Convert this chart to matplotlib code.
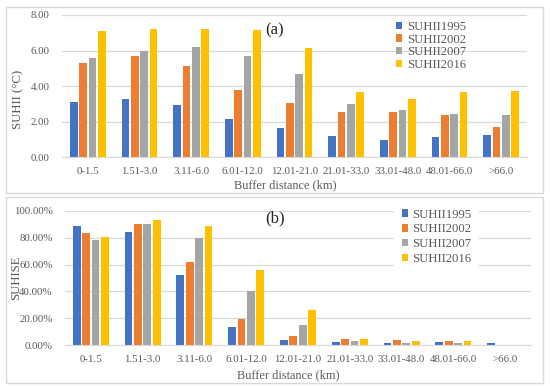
import matplotlib
matplotlib.use("Agg")
import matplotlib.pyplot as plt
import numpy as np
from matplotlib.patches import Rectangle

plt.rcParams['font.family'] = ['Liberation Serif', 'DejaVu Serif']

categories = ["0-1.5", "1.51-3.0", "3.11-6.0", "6.01-12.0", "12.01-21.0",
              "21.01-33.0", "33.01-48.0", "48.01-66.0", ">66.0"]
series_names = ["SUHII1995", "SUHII2002", "SUHII2007", "SUHII2016"]

suhii_1995 = [3.12, 3.25, 2.92, 2.13, 1.63, 1.18, 0.99, 1.12, 1.23]
suhii_2002 = [5.31, 5.68, 5.16, 3.81, 3.05, 2.54, 2.54, 2.36, 1.70]
suhii_2007 = [5.57, 5.98, 6.19, 5.72, 4.67, 3.01, 2.64, 2.45, 2.37]
suhii_2016 = [7.10, 7.20, 7.23, 7.18, 6.13, 3.66, 3.27, 3.66, 3.72]

suhise_1995 = [88.3, 84.3, 52.2, 13.6, 4.2, 2.2, 1.8, 2.1, 1.6]
suhise_2002 = [83.8, 90.3, 62.2, 19.2, 6.8, 4.4, 3.6, 3.4, 0.0]
suhise_2007 = [78.6, 90.3, 79.4, 40.6, 15.2, 3.1, 1.5, 2.0, 0.0]
suhise_2016 = [80.6, 92.8, 88.8, 55.6, 26.0, 4.6, 2.9, 3.4, 0.0]

colors = ["#4472C4", "#ED7D31", "#A5A5A5", "#FFC000"]
grid_c = "#D9D9D9"
txt_c = "#595959"

W, H = 550, 388
fig = plt.figure(figsize=(5.5, 3.88), dpi=100)

def px_axes(l, r, t, b):
    return fig.add_axes([l / W, 1 - b / H, (r - l) / W, (b - t) / H])

# panel borders
for (t, b) in [(7, 193), (197, 383)]:
    fig.patches.append(Rectangle((6 / W, 1 - b / H), (543 - 6) / W, (b - t) / H,
                                 transform=fig.transFigure, fill=False,
                                 edgecolor=grid_c, linewidth=1.0))

ax1 = px_axes(62, 527, 15, 157.3)
ax2 = px_axes(65, 531, 210.7, 345.3)

x = np.arange(len(categories))
pitch = 0.182
bw = 0.150

def draw(ax, data, ylim, yticks, fmt, ylabel, tag, tag_y, leg_anchor, leg_frame, lspacing):
    bars = []
    for i, (vals, c, name) in enumerate(zip(data, colors, series_names)):
        b = ax.bar(x + (i - 1.5) * pitch, vals, width=bw, color=c, label=name, zorder=3)
        bars.append(b)
    ax.set_xlim(-0.5, len(categories) - 0.5)
    ax.set_ylim(*ylim)
    ax.set_yticks(yticks)
    ax.set_yticklabels([fmt(v) for v in yticks])
    ax.set_xticks(x)
    ax.set_xticklabels(categories)
    for s in ["top", "right", "left"]:
        ax.spines[s].set_visible(False)
    ax.spines["bottom"].set_color(grid_c)
    ax.spines["bottom"].set_zorder(4)
    ax.grid(axis="y", color=grid_c, linewidth=0.9, zorder=0)
    ax.set_axisbelow(True)
    ax.tick_params(axis="both", length=0, labelsize=7.8, colors=txt_c)
    ax.tick_params(axis="y", pad=9)
    ax.tick_params(axis="x", pad=7)
    ax.set_xlabel("Buffer distance (km)", fontsize=8.8, color=txt_c, labelpad=1)
    ax.set_ylabel(ylabel, fontsize=9.2, color=txt_c)
    fig.text(275 / W, 1 - tag_y / H, tag, fontsize=12, color="#262626",
             ha="center", va="center")
    leg = ax.legend(handles=bars, loc="upper left",
                    bbox_to_anchor=(leg_anchor[0] / W, 1 - leg_anchor[1] / H),
                    bbox_transform=fig.transFigure, frameon=leg_frame,
                    fontsize=9.2, handlelength=0.5, handleheight=0.5,
                    handletextpad=0.35, labelspacing=lspacing,
                    borderpad=0.6 if leg_frame else 0, borderaxespad=0,
                    labelcolor=txt_c)
    if leg_frame:
        leg.get_frame().set_facecolor("white")
        leg.get_frame().set_edgecolor("none")
        leg.get_frame().set_alpha(1)
    leg.set_zorder(5)

draw(ax1, [suhii_1995, suhii_2002, suhii_2007, suhii_2016], (0, 8),
     [0, 2, 4, 6, 8], lambda v: f"{v:.2f}", "SUHII (°C)", "(a)", 30,
     (396, 21), False, 0.05)
draw(ax2, [suhise_1995, suhise_2002, suhise_2007, suhise_2016], (0, 100),
     [0, 20, 40, 60, 80, 100], lambda v: f"{v:.2f}%", "SUHISE", "(b)", 218,
     (394, 201), True, 0.22)

ax1.yaxis.set_label_coords(18 / W, 1 - 99 / H, transform=fig.transFigure)
ax2.yaxis.set_label_coords(16 / W, 1 - 278 / H, transform=fig.transFigure)
ax1.xaxis.set_label_coords(285 / W, 1 - 185 / H, transform=fig.transFigure)
ax2.xaxis.set_label_coords(288 / W, 1 - 375 / H, transform=fig.transFigure)
ax1.xaxis.label.set_va("center")
ax2.xaxis.label.set_va("center")
ax1.yaxis.label.set_va("center")
ax2.yaxis.label.set_va("center")

fig.savefig("out.png", dpi=100, facecolor="white")
